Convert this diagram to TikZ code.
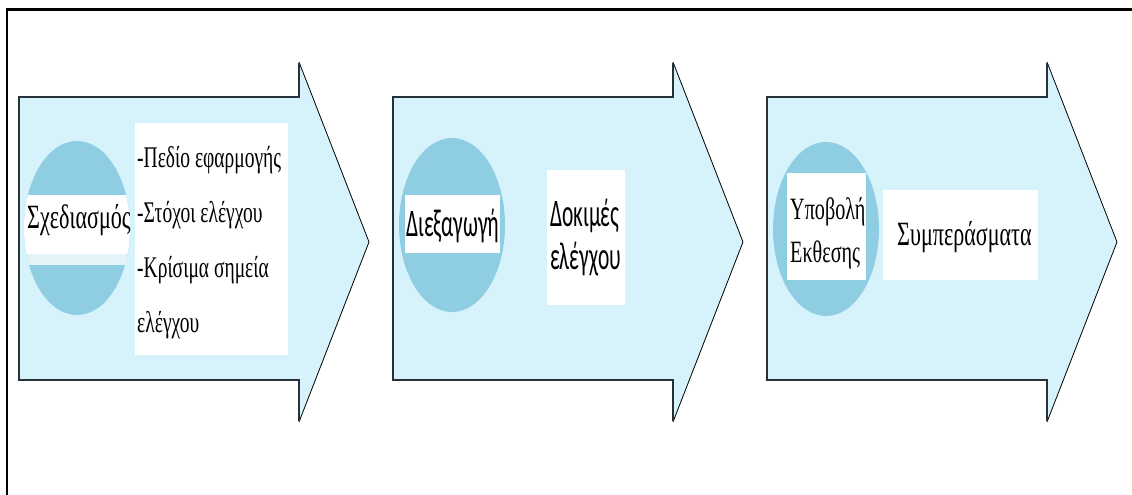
\documentclass[tikz,border=0pt]{standalone}
\usepackage{fontspec}
\setmainfont{Liberation Serif}[FakeStretch=0.65]
\newfontfamily\narrowsans{Carlito}[FakeStretch=0.55]
\definecolor{arrowfill}{RGB}{214,243,251}
\definecolor{discfill}{RGB}{143,206,226}
\definecolor{edgedark}{RGB}{38,50,56}
\begin{document}
\begin{tikzpicture}[x=1pt,y=-1pt,
  shaftedge/.style={edgedark,line width=2.4pt,line join=miter},
  headedge/.style={black,line width=0.8pt},
  whitebox/.style={fill=white},
  serifline/.style={anchor=base west,inner sep=0pt,font=\fontsize{30}{30}\selectfont},
  disclabel/.style={anchor=base west,inner sep=0pt,font=\fontsize{34}{34}\selectfont},
  sansline/.style={anchor=base west,inner sep=0pt,font=\narrowsans\fontsize{39}{39}\selectfont}]
\useasboundingbox (0,0) rectangle (1132,495);
\fill[white] (0,0) rectangle (1132,495);
\draw[line width=2.2pt] (7,510) -- (7,9.5) -- (1150,9.5);
\foreach \x in {19,393,767} {
  \fill[arrowfill] (\x,97) -- (\x+280,97) -- (\x+280,62) -- (\x+350,242)
    -- (\x+280,422) -- (\x+280,380) -- (\x,380) -- cycle;
  \draw[headedge] (\x+280,62) -- (\x+350,242) -- (\x+280,422);
  \draw[shaftedge] (\x+280,63) -- (\x+280,97) -- (\x,97) -- (\x,380)
    -- (\x+280,380) -- (\x+280,421);
}
\foreach \cx/\cy in {77/228,452/225,826/229} {
  \fill[discfill] (\cx,\cy) ellipse (53 and 87);
}
\begin{scope}
  \clip (77,228) ellipse (53 and 87);
  \fill[white] (0,195) rectangle (140,254);
  \fill[white!75!discfill] (0,254) rectangle (140,265);
\end{scope}
\begin{scope}
  \clip (452,225) ellipse (53 and 87);
  \fill[white] (405,195) rectangle (500,253);
\end{scope}
\fill[whitebox] (787,173) rectangle (866,280);
\fill[whitebox] (135,123) rectangle (288,355);
\fill[whitebox] (547,170) rectangle (625,305);
\fill[whitebox] (883,190) rectangle (1038,280);
\node[disclabel] (plan) at (27,228) {Σχεδιασμός};
\foreach \name/\y/\txt in {scope/167/{-Πεδίο εφαρμογής},goals/222/{-Στόχοι ελέγχου},
    points/277/{-Κρίσιμα σημεία},pointsend/332/{ελέγχου}} {
  \node[serifline] (\name) at (137,\y) {\txt};
}
\node[sansline] (conduct) at (406,236) {Διεξαγωγή};
\node[sansline] (tests) at (550,226) {Δοκιμές};
\node[sansline] (testsend) at (550,269) {ελέγχου};
\node[disclabel,font=\fontsize{31}{31}\selectfont] (submit) at (790,219) {Υποβολή};
\node[disclabel,font=\fontsize{31}{31}\selectfont] (report) at (790,262) {Εκθεσης};
\node[disclabel] (results) at (897,245) {Συμπεράσματα};
\end{tikzpicture}
\end{document}
